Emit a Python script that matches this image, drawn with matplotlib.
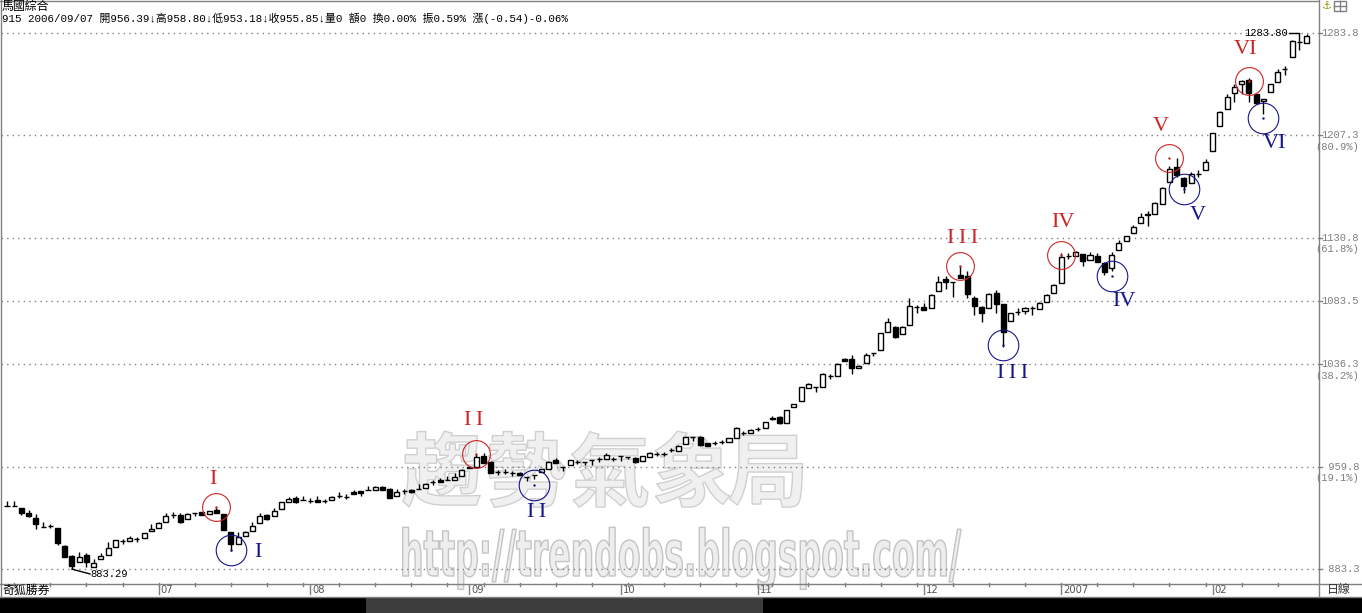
import matplotlib
matplotlib.use("Agg")
import matplotlib.pyplot as plt
import matplotlib.patheffects as pe
import matplotlib.colors as mcolors
from matplotlib.patches import Rectangle
from matplotlib.transforms import Affine2D, blended_transform_factory

plt.rcParams['font.family'] = ['Noto Sans CJK TC', 'DejaVu Sans']

W, H = 1362, 613

# daily KLCI candles, June 2006 .. Feb 2007
opens = [930.7, 930.7, 928.7, 925.5, 921.3, 915.0, 915.5, 913.8, 900.6, 893.3,
         888.4, 893.6, 884.7, 890.7, 893.6, 899.6, 904.3, 904.1, 905.6, 906.3,
         911.6, 913.8, 918.3, 923.5, 924.0, 920.5, 925.0, 925.8, 924.7, 927.5,
         924.5, 910.8, 901.9, 907.8, 912.0, 917.5, 923.5, 923.0, 928.0, 933.2,
         936.4, 935.0, 934.4, 935.2, 934.2, 935.0, 938.2, 937.4, 941.0, 941.7,
         942.2, 942.4, 944.7, 943.4, 937.7, 941.4, 942.2, 943.4, 944.1, 948.4,
         949.7, 949.9, 949.9, 953.1, 959.8, 959.4, 968.0, 963.6, 955.7, 956.1,
         954.9, 954.9, 952.4, 953.6, 955.9, 957.9, 964.6, 959.4, 960.9, 963.6,
         963.3, 964.6, 965.3, 965.3, 965.6, 967.6, 967.3, 966.1, 964.1, 967.3,
         969.5, 969.5, 972.3, 971.6, 976.8, 982.0, 982.0, 977.5, 977.5, 978.3,
         978.3, 981.3, 985.0, 985.0, 988.0, 988.7, 996.5, 996.9, 992.4, 1004.4,
         1008.9, 1018.6, 1019.4, 1019.4, 1027.6, 1027.6, 1040.3, 1040.3, 1033.6, 1037.3,
         1044.8, 1047.0, 1060.4, 1064.2, 1059.0, 1065.7, 1079.1, 1079.1, 1078.4, 1091.1,
         1100.0, 1097.6, 1103.0, 1102.3, 1085.8, 1079.1, 1078.4, 1089.6, 1081.4, 1068.7,
         1075.6, 1076.1, 1078.2, 1077.8, 1082.6, 1089.4, 1096.8, 1117.4, 1117.4, 1118.5,
         1114.2, 1117.4, 1112.2, 1108.0, 1121.7, 1128.4, 1134.2, 1142.1, 1148.8, 1148.6,
         1156.1, 1172.7, 1183.9, 1175.7, 1172.0, 1178.2, 1181.5, 1195.9, 1214.3, 1226.8,
         1238.8, 1245.5, 1248.7, 1238.2, 1232.8, 1240.0, 1247.4, 1256.7, 1265.6, 1277.3,
         1276.5]
highs = [934.2, 934.2, 928.9, 927.5, 924.3, 918.8, 917.3, 914.3, 901.1, 893.9,
         896.3, 895.6, 890.9, 895.6, 903.4, 905.1, 906.0, 908.1, 907.6, 910.3,
         916.8, 918.5, 925.5, 926.0, 925.0, 925.5, 925.0, 926.2, 927.0, 929.5,
         924.5, 911.0, 910.8, 911.8, 918.8, 925.5, 924.5, 928.7, 933.5, 937.0,
         937.9, 938.2, 936.4, 937.9, 936.0, 938.2, 940.7, 939.4, 942.4, 941.7,
         945.2, 945.4, 945.5, 944.1, 942.9, 943.4, 943.5, 946.9, 947.4, 950.1,
         951.6, 953.1, 955.1, 958.1, 960.0, 969.3, 969.8, 963.8, 957.4, 957.8,
         956.5, 955.5, 952.4, 953.6, 958.3, 963.8, 966.1, 959.4, 965.0, 965.2,
         963.3, 964.6, 967.0, 970.3, 967.2, 967.6, 967.3, 967.0, 968.0, 970.5,
         971.0, 971.0, 973.8, 975.8, 982.0, 982.0, 982.5, 977.8, 979.0, 979.8,
         981.5, 989.5, 986.5, 988.0, 989.5, 993.5, 997.7, 997.5, 1002.5, 1006.9,
         1019.6, 1022.0, 1019.4, 1029.5, 1029.0, 1037.0, 1041.0, 1043.3, 1035.5, 1044.9,
         1044.8, 1060.0, 1070.9, 1065.0, 1065.0, 1085.8, 1080.5, 1082.1, 1088.5, 1102.3,
         1102.3, 1097.6, 1109.8, 1106.0, 1087.0, 1080.0, 1089.5, 1091.8, 1081.4, 1075.0,
         1078.4, 1079.0, 1079.9, 1082.8, 1088.5, 1096.0, 1119.2, 1119.2, 1120.7, 1119.0,
         1120.4, 1119.6, 1112.5, 1120.0, 1129.2, 1132.5, 1140.4, 1149.1, 1150.8, 1157.5,
         1168.5, 1184.3, 1190.6, 1176.5, 1180.2, 1181.5, 1189.5, 1209.2, 1225.3, 1238.2,
         1245.5, 1248.5, 1250.0, 1238.5, 1234.5, 1246.0, 1256.9, 1259.4, 1278.3, 1283.8,
         1283.0]
lows = [930.7, 930.7, 923.5, 922.0, 913.5, 915.0, 913.8, 901.1, 892.1, 883.3,
        888.4, 885.1, 884.7, 890.7, 893.6, 899.6, 901.9, 904.1, 903.6, 906.3,
        911.6, 913.8, 918.3, 921.7, 917.5, 920.5, 923.2, 924.0, 924.7, 925.0,
        912.5, 897.1, 901.9, 907.8, 912.0, 917.5, 920.0, 923.0, 928.0, 933.2,
        932.5, 935.0, 932.7, 933.2, 932.5, 935.0, 936.2, 935.5, 939.4, 937.9,
        942.2, 942.4, 942.5, 936.5, 937.7, 939.6, 940.0, 943.4, 944.1, 946.2,
        948.4, 949.9, 949.9, 953.1, 958.6, 959.4, 962.8, 955.4, 953.6, 954.2,
        953.2, 953.4, 949.1, 950.9, 955.9, 957.9, 962.8, 956.6, 960.9, 962.0,
        961.3, 961.1, 963.5, 965.3, 963.8, 964.3, 965.5, 962.5, 964.1, 967.3,
        968.0, 968.0, 970.8, 971.6, 976.8, 979.0, 975.5, 975.0, 976.0, 976.8,
        978.3, 981.3, 983.5, 985.0, 986.5, 988.7, 994.7, 992.0, 992.4, 1004.4,
        1008.9, 1018.6, 1015.6, 1019.4, 1025.5, 1027.6, 1038.5, 1029.1, 1033.6, 1037.3,
        1042.5, 1047.0, 1060.4, 1055.9, 1059.0, 1065.7, 1074.6, 1076.9, 1078.4, 1091.1,
        1092.6, 1086.6, 1100.8, 1085.8, 1073.1, 1067.9, 1078.4, 1074.6, 1049.5, 1068.7,
        1073.1, 1073.7, 1073.1, 1077.8, 1082.6, 1089.4, 1096.8, 1115.0, 1117.4, 1110.0,
        1114.2, 1113.0, 1103.0, 1106.0, 1121.7, 1128.4, 1134.2, 1142.1, 1139.6, 1148.6,
        1156.1, 1172.7, 1176.5, 1164.0, 1172.0, 1175.9, 1181.5, 1195.9, 1214.3, 1226.8,
        1232.5, 1238.2, 1232.0, 1231.0, 1223.3, 1240.0, 1247.4, 1252.4, 1265.6, 1271.1,
        1276.0]
closes = [930.7, 930.7, 925.0, 923.0, 916.8, 915.0, 915.5, 902.6, 892.1, 885.6,
          892.1, 888.4, 888.2, 893.1, 898.9, 904.9, 904.3, 906.6, 905.6, 910.1,
          913.5, 918.0, 923.0, 923.5, 918.3, 924.5, 925.0, 924.0, 926.7, 925.0,
          912.5, 901.9, 907.1, 911.0, 915.7, 923.2, 920.8, 926.7, 933.2, 935.7,
          933.7, 935.0, 934.4, 933.2, 934.2, 937.2, 938.2, 937.4, 939.4, 940.2,
          942.2, 944.4, 942.7, 936.7, 941.0, 941.4, 940.7, 943.4, 946.9, 948.4,
          948.4, 949.9, 952.4, 957.4, 958.6, 966.9, 962.8, 955.4, 955.7, 956.1,
          954.9, 953.4, 952.4, 953.6, 957.9, 963.6, 962.8, 959.4, 964.8, 963.6,
          963.3, 964.6, 965.3, 968.3, 965.6, 967.6, 967.3, 963.1, 967.6, 969.8,
          969.5, 969.5, 972.3, 975.3, 982.0, 982.0, 976.0, 975.3, 977.5, 978.3,
          981.3, 988.7, 985.0, 987.2, 988.0, 993.2, 995.8, 992.4, 1002.2, 1006.7,
          1019.4, 1021.6, 1019.4, 1029.1, 1027.6, 1036.5, 1038.8, 1033.6, 1035.1, 1043.3,
          1044.8, 1059.7, 1067.9, 1056.7, 1064.2, 1079.9, 1079.1, 1076.9, 1088.1, 1097.8,
          1097.8, 1097.6, 1100.8, 1088.8, 1079.9, 1074.6, 1088.8, 1081.4, 1060.7, 1074.6,
          1075.6, 1078.6, 1078.2, 1082.3, 1088.1, 1095.6, 1116.7, 1117.4, 1120.2, 1113.2,
          1118.0, 1113.0, 1105.5, 1118.0, 1126.7, 1132.2, 1138.7, 1146.6, 1148.0, 1157.0,
          1168.2, 1182.2, 1177.7, 1169.7, 1178.5, 1178.2, 1187.7, 1208.9, 1225.0, 1236.2,
          1243.7, 1248.2, 1238.8, 1231.7, 1234.3, 1245.5, 1254.9, 1256.7, 1278.0, 1277.3,
          1281.5]

month_pos = [21, 42, 64, 85, 104, 127, 146, 167]
month_labels = ['07', '08', '09', '10', '11', '12', '2007', '02']

levels = [1283.8, 1207.3, 1130.8, 1083.5, 1036.3, 959.8, 883.3]
level_text = ['1283.8', '1207.3', '1130.8', '1083.5', '1036.3', ' 959.8', ' 883.3']
level_pct = ['', '(80.9%)', '(61.8%)', '', '(38.2%)', '(19.1%)', '']

wave_names = ['I', 'I\u2009I', 'I\u2009I\u2009I', 'IV', 'V', 'VI']
top_x = [29, 65, 132, 146, 161, 172]
top_y = [929.9, 969.5, 1109.7, 1118.0, 1190.6, 1248.2]
top_lab_x = [28.5, 64.6, 132.3, 146.3, 159.8, 171.6]
top_lab_y = [949.9, 994.3, 1130.6, 1142.6, 1214.3, 1271.8]
bot_x = [31, 73, 138, 153, 163, 174]
bot_y = [897.8, 946.2, 1050.7, 1102.3, 1167.0, 1220.5]
bot_lab_x = [34.8, 73.4, 139.3, 154.7, 165.0, 175.5]
bot_lab_y = [896.1, 925.5, 1029.8, 1083.6, 1147.1, 1200.9]

hi_val, lo_val = 1283.80, 883.29

RED = '#cc2626'
BLUE = '#16168c'
GRAY = '#808080'
MONO = ['Liberation Mono', 'DejaVu Sans Mono']


def fx(x):
    return x / W


def fy(y):
    return 1 - y / H


class Squeeze(pe.AbstractPathEffect):
    # draws text path stretched around its origin, filled + outlined
    def __init__(self, sx=1.0, sy=1.0, face='#ececec', edge='#c6c6c6', lw=1.2):
        super().__init__()
        self.sx, self.sy = sx, sy
        self.face = mcolors.to_rgba(face)
        self.edge = edge
        self.lw = lw

    def draw_path(self, renderer, gc, tpath, affine, rgbFace=None):
        aff = Affine2D().scale(self.sx, self.sy) + affine
        gc0 = renderer.new_gc()
        gc0.copy_properties(gc)
        gc0.set_foreground(self.edge)
        gc0.set_linewidth(self.lw)
        renderer.draw_path(gc0, tpath, aff, self.face)
        gc0.restore()


fig = plt.figure(figsize=(W / 100, H / 100), dpi=100)
ax = fig.add_axes([fx(1), fy(583), fx(1317), (583 - 26) / H])
ax.set_xlim(-0.83, 181.58)
ax.set_ylim(872.95, 1289.03)
ax.axis('off')

# watermark
for ch, cx in zip('趨勢氣象局', [442, 526, 610, 692, 768]):
    ax.text(fx(cx), fy(500), ch, transform=fig.transFigure, fontsize=58,
            family=['Noto Sans CJK TC'], weight='bold', ha='center', va='baseline',
            color='#efefef', zorder=0.5, clip_on=False,
            path_effects=[Squeeze(1.0, 1.0, '#f0f0f0', '#d0d0d0', 1.0)])
ax.text(fx(400), fy(576), 'http://trendobs.blogspot.com/', transform=fig.transFigure,
        fontsize=23.8, family=['DejaVu Sans'], weight='bold', ha='left', va='baseline',
        color='#ececec', zorder=0.5, clip_on=False,
        path_effects=[Squeeze(1.0, 1.94, '#eeeeee', '#c4c4c4', 1.0)])

# dotted levels
for lv in levels:
    ax.axhline(lv, color=GRAY, lw=1, ls=(0, (1, 3)), zorder=1)

# candles
bw = 0.7
for i in range(len(closes)):
    o, h, l, c = opens[i], highs[i], lows[i], closes[i]
    ax.vlines(i, l, h, color='black', lw=1, zorder=3)
    if c == o:
        ax.hlines(o, i - bw / 2, i + bw / 2, color='black', lw=1, zorder=4)
    else:
        fc = 'white' if c > o else 'black'
        ax.add_patch(Rectangle((i - bw / 2, min(o, c)), bw, abs(c - o),
                               facecolor=fc, edgecolor='black', lw=1, zorder=4))

# wave circles and labels
ax.plot(top_x, top_y, 'o', ms=20, mfc='none', mec=RED, mew=0.8, zorder=5)
ax.plot(top_x, top_y, '.', ms=1.5, color=RED, zorder=5)
ax.plot(bot_x, bot_y, 'o', ms=22, mfc='none', mec=BLUE, mew=0.8, zorder=5)
ax.plot(bot_x, bot_y, '.', ms=1.5, color=BLUE, zorder=5)
for name, x, y in zip(wave_names, top_lab_x, top_lab_y):
    ax.text(x, y, name, color=RED, fontsize=16, family=['Liberation Serif', 'DejaVu Serif'],
            ha='center', va='center', zorder=6)
for name, x, y in zip(wave_names, bot_lab_x, bot_lab_y):
    ax.text(x, y, name, color=BLUE, fontsize=16, family=['Liberation Serif', 'DejaVu Serif'],
            ha='center', va='center', zorder=6)

# max / min markers
ax.plot([177.6, 179], [hi_val, hi_val], color='black', lw=1, zorder=5)
ax.text(177.4, hi_val, '%.2f' % hi_val, fontsize=7.6, family=MONO,
        ha='right', va='center', zorder=6)
ax.plot([9, 11.5], [lo_val, 879.7], color='black', lw=1, zorder=5)
ax.text(11.6, 879.7, '%.2f' % lo_val, fontsize=7.6, family=MONO,
        ha='left', va='center', zorder=6)

# right scale
tr = blended_transform_factory(fig.transFigure, ax.transData)
for lv, t, p in zip(levels, level_text, level_pct):
    ax.plot([fx(1318), fx(1322)], [lv, lv], color=GRAY, lw=1, transform=tr, clip_on=False)
    ax.text(fx(1359), lv, t, transform=tr, fontsize=7.6, family=MONO,
            color=GRAY, ha='right', va='center', clip_on=False)
    if p:
        ax.text(fx(1359), lv - 11.5 * 0.747, p, transform=tr, fontsize=7.6,
                family=MONO, color=GRAY, ha='right', va='center', clip_on=False)

# frame lines
fig.add_artist(plt.Line2D([fx(1318.5), fx(1318.5)], [fy(0), fy(597)], color=GRAY, lw=1))
fig.add_artist(plt.Line2D([0, 1], [fy(583.5), fy(583.5)], color=GRAY, lw=1))
fig.add_artist(plt.Line2D([0, 1], [fy(596.5), fy(596.5)], color=GRAY, lw=1))
fig.add_artist(plt.Line2D([fx(0.5), fx(0.5)], [fy(0), fy(597)], color=GRAY, lw=1))
fig.add_artist(plt.Line2D([0, fx(1318)], [fy(0.5), fy(0.5)], color=GRAY, lw=1))

# date axis
tb = blended_transform_factory(ax.transData, fig.transFigure)
for k in range(1, 181, 5):
    ax.plot([k, k], [fy(583), fy(586)], color=GRAY, lw=1, transform=tb, clip_on=False)
for pos, lab in zip(month_pos, month_labels):
    ax.plot([pos, pos], [fy(585), fy(594)], color=GRAY, lw=1, transform=tb, clip_on=False)
    ax.text(pos + 0.25, fy(590), lab, transform=tb, fontsize=7.2,
            family=['Liberation Sans Narrow', 'DejaVu Sans'], color='#555555',
            ha='left', va='center', clip_on=False)

# bottom scroll bar
fig.add_artist(Rectangle((0, 0), 1, fy(597), facecolor='black', edgecolor='none'))
fig.add_artist(Rectangle((fx(366), 0), fx(763 - 366), fy(597), facecolor='#3c3c3c',
                         edgecolor='none'))

# header + corner texts
fig.text(fx(2), fy(6.5), '馬國綜合', fontsize=8.6, ha='left', va='center')
fig.text(fx(2), fy(18.5),
         '915 2006/09/07 開956.39↓高958.80↓低953.18↓收955.85↓量0 額0 換0.00% 振0.59% 漲(-0.54)-0.06%',
         fontsize=7.8, ha='left', va='center',
         family=['Liberation Mono', 'Noto Sans CJK TC', 'DejaVu Sans'])
fig.text(fx(2), fy(590), '奇狐勝券', fontsize=8.6, ha='left', va='center')
fig.text(fx(1339), fy(590), '日線', fontsize=8.6, ha='center', va='center', color='#333333')
fig.text(fx(1327), fy(6), '⚓', fontsize=8, ha='center', va='center', color='#9a9a10',
         family=['DejaVu Sans'])
fig.add_artist(Rectangle((fx(1334), fy(11)), fx(12), 10 / H, facecolor='none',
                         edgecolor=GRAY, lw=1))
fig.add_artist(plt.Line2D([fx(1334), fx(1346)], [fy(6), fy(6)], color=GRAY, lw=1))
fig.add_artist(plt.Line2D([fx(1340), fx(1340)], [fy(1), fy(11)], color=GRAY, lw=1))

fig.savefig('out.png', dpi=100)
